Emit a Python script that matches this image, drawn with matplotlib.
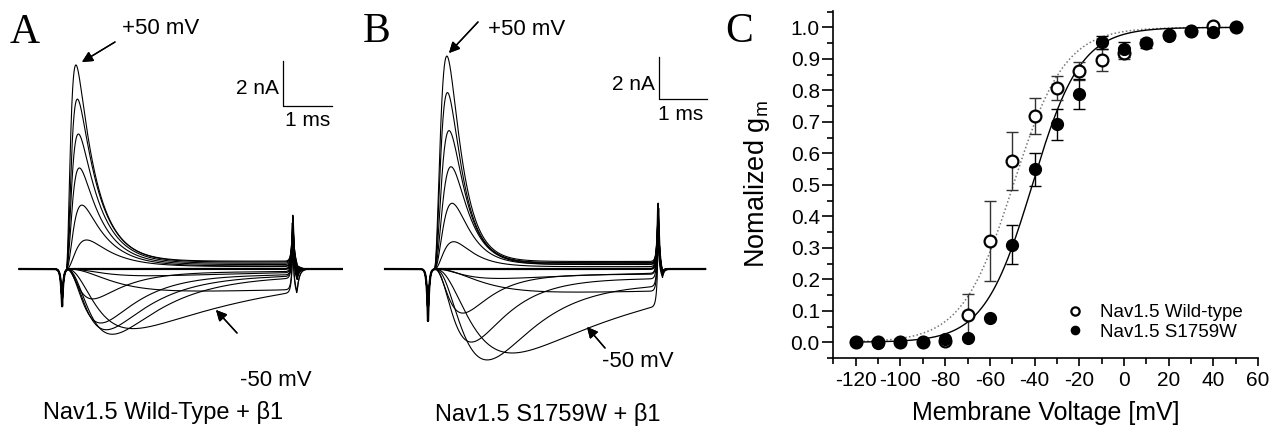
import numpy as np
import matplotlib

matplotlib.use("Agg")
import matplotlib.pyplot as plt
from matplotlib.ticker import MultipleLocator, FormatStrFormatter

plt.rcParams["font.family"] = ["Liberation Sans", "DejaVu Sans"]
plt.rcParams["mathtext.fontset"] = "custom"
plt.rcParams["mathtext.rm"] = "Liberation Sans"
plt.rcParams["mathtext.it"] = "Liberation Sans"
plt.rcParams["axes.unicode_minus"] = False

W, H = 1281, 430

# ---- panel A / B: current traces, one entry per test pulse ----
# (peak in nA, time to peak in ms, inactivation tau in ms, sustained fraction)
a_peak = [9.07, 7.55, 6.0, 4.49, 2.84, 1.29, -1.33, -2.4, -2.7, -2.9, -2.65, -0.98, -0.3]
a_tpeak = [0.20, 0.23, 0.25, 0.27, 0.32, 0.41, 0.53, 0.69, 0.80, 0.92, 1.37, 2.8, 1.6]
a_tau = [0.40, 0.42, 0.44, 0.46, 0.50, 0.55, 0.70, 0.80, 0.95, 1.10, 3.0, 20.0, 3.0]
a_ss = [0.02, 0.02, 0.02, 0.02, 0.02, 0.03, 0.03, 0.03, 0.03, 0.03, 0.0, 0.0, 0.1]

b_peak = [10.14, 8.4, 6.59, 4.87, 3.13, 1.3, -2.1, -3.48, -4.33, -4.0, -1.1, -0.45]
b_tpeak = [0.265, 0.277, 0.31, 0.35, 0.37, 0.40, 0.58, 0.75, 1.06, 1.63, 3.0, 1.3]
b_tau = [0.30, 0.31, 0.32, 0.34, 0.36, 0.40, 0.60, 0.75, 0.95, 3.0, 25.0, 2.5]
b_ss = [0.01, 0.01, 0.01, 0.01, 0.015, 0.02, 0.03, 0.03, 0.03, 0.0, 0.0, 0.1]

# capacitive transients (time ms, amplitude nA)
a_spikes = [(-0.08, -1.73), (4.63, 2.09), (4.72, -0.2)]
b_spikes = [(-0.125, -2.57), (4.67, 3.0), (4.76, -0.3)]
a_step_end, b_step_end = 4.71, 4.65

# ---- panel C: activation curves ----
volts = np.arange(-120, 51, 10)
g_wt = [0.0, 0.0, 0.0, 0.0, 0.005, 0.087, 0.323, 0.575, 0.718, 0.807,
        0.862, 0.897, 0.918, 0.95, 0.975, 0.99, 1.005, 1.0]
g_wt_err = [0, 0, 0, 0, 0, 0.066, 0.127, 0.092, 0.057, 0.037,
            0.029, 0.035, 0.02, 0, 0, 0, 0, 0]
g_mut = [0.002, -0.002, 0.001, 0.001, 0.01, 0.015, 0.076, 0.31, 0.549, 0.692,
         0.788, 0.952, 0.93, 0.949, 0.974, 0.99, 0.984, 1.0]
g_mut_err = [0, 0, 0, 0, 0, 0, 0, 0.062, 0.053, 0.05,
             0.048, 0.02, 0.025, 0.015, 0, 0, 0, 0]
fit_wt = (-49.5, 11.5)   # V1/2, slope
fit_mut = (-41.0, 10.8)


def activation_tau(tp, th):
    u = np.linspace(0.02, 40, 40000)
    val = 3 * th * u / np.expm1(u)
    return tp / u[np.argmin(np.abs(val - tp))]


def current_trace(t, peak, tp, th, ss, t_end, spikes):
    tm = activation_tau(tp, th)
    tt = np.clip(t, 0, t_end)
    f = (1 - np.exp(-tt / tm)) ** 3 * ((1 - ss) * np.exp(-tt / th) + ss)
    f = f / f.max()
    after = t > t_end
    f[after] = f[after] * np.exp(-(t[after] - t_end) / 0.05)
    out = peak * f
    for t0, amp in spikes:
        out = out + amp * np.exp(-np.abs(t - t0) / 0.025)
    return out


def fig_px(x, y):
    return x / W, 1 - y / H


fig = plt.figure(figsize=(W / 100, H / 100), dpi=100)


def trace_panel(left, onset, base, px_ms, px_na, t_range, peaks, tps, taus, sss,
                t_end, spikes):
    ax = fig.add_axes([left / W, 0, 360 / W, 1])
    ax.set_xlim(-(onset - left) / px_ms, (left + 360 - onset) / px_ms)
    ax.set_ylim(-(H - base) / px_na, base / px_na)
    ax.axis("off")
    t = np.linspace(t_range[0], t_range[1], 3000)
    ax.plot(t, current_trace(t, 0.0, 1.0, 1.0, 0.0, t_end, spikes), color="k", lw=1.6)
    for p, tp, th, ss in zip(peaks, tps, taus, sss):
        ax.plot(t, current_trace(t, p, tp, th, ss, t_end, spikes), color="k", lw=0.8)
    return ax


ax_a = trace_panel(0, 66, 269, 49, 22.5, (-0.95, 5.63), a_peak, a_tpeak, a_tau, a_ss,
                   a_step_end, a_spikes)
ax_b = trace_panel(360, 434, 269, 48, 21, (-1.02, 5.65), b_peak, b_tpeak, b_tau, b_ss,
                   b_step_end, b_spikes)

# scale bars: 2 nA / 1 ms
ax_a.plot([4.43, 4.43, 5.43], [9.24, 7.24, 7.24], color="k", lw=0.9)
ax_b.plot([4.69, 4.69, 5.69], [10.1, 8.1, 8.1], color="k", lw=0.9)

# panel letters and labels
for s, x, y in [("A", 10, 43), ("B", 363, 42), ("C", 725, 42)]:
    fig.text(*fig_px(x, y), s, family="Liberation Serif", fontsize=30, va="baseline")

labels = [
    ("+50 mV", 122, 34, "left", 16), ("2 nA", 279, 94, "right", 15),
    ("1 ms", 285, 126, "left", 15), ("-50 mV", 240, 386, "left", 16),
    ("Nav1.5 Wild-Type + \u03b21", 43, 419, "left", 17),
    ("+50 mV", 488, 35, "left", 16), ("2 nA", 655, 90, "right", 15),
    ("1 ms", 658, 120, "left", 15), ("-50 mV", 602, 367, "left", 16),
    ("Nav1.5 S1759W + \u03b21", 435, 421, "left", 17),
]
for s, x, y, ha, fs in labels:
    fig.text(*fig_px(x, y), s, fontsize=fs, ha=ha, va="baseline")

arrows = [((115, 42), (82, 62)), ((237, 333), (216, 310)),
          ((478, 22), (449, 53)), ((605, 348), (587, 327))]
for (x0, y0), (x1, y1) in arrows:
    fig.add_artist(plt.annotate(
        "", xy=(x1, H - y1), xytext=(x0, H - y0), xycoords="figure pixels",
        textcoords="figure pixels",
        arrowprops=dict(arrowstyle="-|>", color="k", lw=1.0, mutation_scale=16,
                        shrinkA=0, shrinkB=0)))

# ---- panel C ----
ax_c = fig.add_axes([833 / W, 1 - 358 / H, (1258 - 833) / W, (358 - 11) / H])
ax_c.set_xlim(-130.2, 60)
ax_c.set_ylim(-0.05, 1.052)
for side in ["top", "right"]:
    ax_c.spines[side].set_visible(False)
for side in ["left", "bottom"]:
    ax_c.spines[side].set_linewidth(1.2)
ax_c.xaxis.set_major_locator(MultipleLocator(20))
ax_c.xaxis.set_minor_locator(MultipleLocator(10))
ax_c.yaxis.set_major_locator(MultipleLocator(0.1))
ax_c.yaxis.set_minor_locator(MultipleLocator(0.05))
ax_c.yaxis.set_major_formatter(FormatStrFormatter("%.1f"))
ax_c.tick_params(which="major", direction="out", length=6, width=1.2, labelsize=15, pad=3)
ax_c.tick_params(which="minor", direction="out", length=4, width=1.2)
ax_c.tick_params(axis="y", which="major", length=8, pad=1.5)

v = np.linspace(-120, 50, 400)
vh, k = fit_wt
ax_c.plot(v, 1 / (1 + np.exp((vh - v) / k)), color="#777777", lw=1.1, ls=(0, (1, 1.5)))
vh, k = fit_mut
ax_c.plot(v, 1 / (1 + np.exp((vh - v) / k)), color="k", lw=1.0)

g_wt = np.array(g_wt)
g_mut = np.array(g_mut)
e_wt = np.array(g_wt_err)
e_mut = np.array(g_mut_err)
m = e_wt > 0
ax_c.errorbar(volts[m], g_wt[m], yerr=e_wt[m], fmt="none", ecolor="#333333",
              elinewidth=1, capsize=4, capthick=1)
m = e_mut > 0
ax_c.errorbar(volts[m], g_mut[m], yerr=e_mut[m], fmt="none", ecolor="k",
              elinewidth=1, capsize=4, capthick=1)
ax_c.plot(volts, g_wt, "o", ls="none", ms=8.5, mfc="white", mec="k", mew=1.6,
          label="Nav1.5 Wild-type")
ax_c.plot(volts, g_mut, "o", ls="none", ms=8.5, mfc="k", mec="k",
          label="Nav1.5 S1759W")

ax_c.set_xlabel("Membrane Voltage [mV]", fontsize=18, labelpad=8)
ax_c.set_ylabel("Nomalized g$_\\mathrm{m}$", fontsize=19.5, labelpad=13)

lx, ly = fig_px(1066, 322.5)
ax_c.legend(loc="center left", bbox_to_anchor=(lx, ly), bbox_transform=fig.transFigure,
            frameon=False, fontsize=13.5, handlelength=1.0, handletextpad=0.8,
            borderpad=0, borderaxespad=0, labelspacing=0.12, markerscale=0.7)

fig.savefig("out.png", dpi=100)
